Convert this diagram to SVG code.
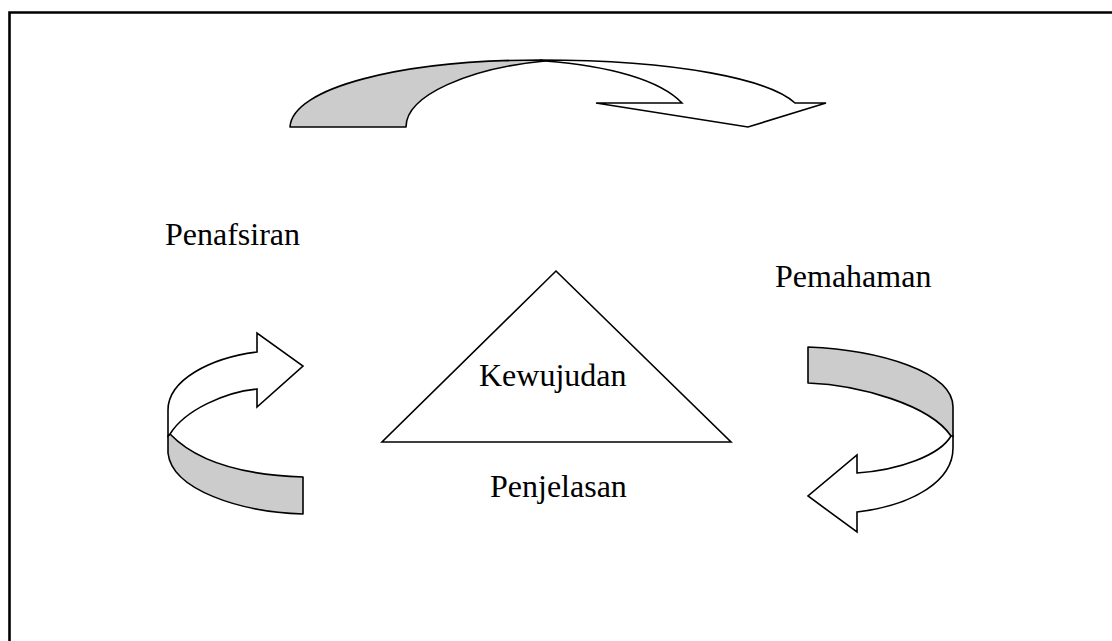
<svg xmlns="http://www.w3.org/2000/svg" width="1112" height="641" viewBox="0 0 1112 641">
<style>
.ln{fill:none;stroke:#000;stroke-width:1.6;stroke-linejoin:miter}
.gr{fill:#cccccc;stroke:#000;stroke-width:1.6;stroke-linejoin:round}
.wh{fill:#fff;stroke:#000;stroke-width:1.6;stroke-linejoin:miter}
.lbl{font-family:"Liberation Serif","Times New Roman",serif;font-size:32px;fill:#000}
</style>
<rect width="1112" height="641" fill="#fff"/>
<path d="M9.5,641 L9.5,12.5 L1112,12.5" fill="none" stroke="#000" stroke-width="2.6"/>
<g id="connectors">
<g id="arrow-top">
<path class="gr" d="M290,127 C292,88 400,60 540,60 L545,61 C470,68 406,95 406,127 Z"/>
<path class="wh" d="M540,60 C680,60 770,80 795,103 L826,103 L748,127 L596,103 L682,103 C660,80 610,66 545,61 Z"/>
</g>
<g id="arrow-left">
<path class="gr" d="M170,434 C195,460 240,475 303,477 L303,514 C240,512 172,490 168,453 L168,436 Z"/>
<path class="wh" d="M257,352 L257,333 L303,366 L257,407 L257,389 C225,392 185,410 170,434 L168,436 L168,410 C168,380 210,358 257,352 Z"/>
</g>
<g id="arrow-right">
<path class="gr" d="M808,347 C880,350 953,372 953,407 L953,437 L951,436 C930,405 860,385 808,383 Z"/>
<path class="wh" d="M951,436 C940,455 900,470 857,473 L857,455 L808,496 L857,532 L857,512 C915,505 953,480 953,448 L953,436 Z"/>
</g>
</g>
<g id="node-kewujudan">
<polygon class="wh" points="556,271 731,442 382,442"/>
<text class="lbl" x="479" y="386">Kewujudan</text>
</g>
<g id="node-penafsiran"><text class="lbl" x="165" y="245">Penafsiran</text></g>
<g id="node-pemahaman"><text class="lbl" x="775" y="287">Pemahaman</text></g>
<g id="node-penjelasan"><text class="lbl" x="490" y="497">Penjelasan</text></g>
</svg>
